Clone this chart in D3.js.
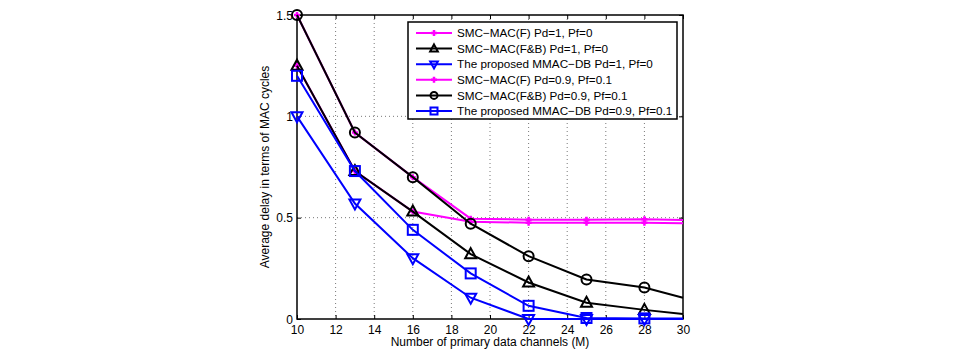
<!DOCTYPE html>
<html>
<head>
<meta charset="utf-8">
<script src="https://cdn.jsdelivr.net/npm/d3@7"></script>
<style>
  body { margin: 0; background: #fff; }
  svg { display: block; font-family: "Liberation Sans", Arial, sans-serif; }
  .tick text { font-size: 12px; fill: #000; }
  .axis-label { font-size: 12px; fill: #000; }
  .legend text { font-size: 11.7px; fill: #000; }
</style>
</head>
<body>
<div id="chart"></div>
<script>
const width = 958;
const height = 350;
const margin = { top: 15, right: 275, bottom: 31, left: 297 };
const innerWidth = width - margin.left - margin.right;
const innerHeight = height - margin.top - margin.bottom;

// data
const channels = [10, 13, 16, 19, 22, 25, 28, 30];
const xTicks = [10, 12, 14, 16, 18, 20, 22, 24, 26, 28, 30];
const yTicks = [0, 0.5, 1, 1.5];

const smcF_pd1 = [1.25, 0.73, 0.53, 0.48, 0.475, 0.475, 0.475, 0.473];
const smcFB_pd1 = [1.25, 0.73, 0.53, 0.32, 0.18, 0.08, 0.045, 0.025];
const mmac_pd1 = [1.0, 0.57, 0.30, 0.105, 0.0, 0.0, 0.0, 0.0];
const smcF_pd09 = [1.5, 0.92, 0.70, 0.495, 0.49, 0.49, 0.492, 0.488];
const smcFB_pd09 = [1.5, 0.92, 0.70, 0.47, 0.31, 0.195, 0.155, 0.105];
const mmac_pd09 = [1.2, 0.73, 0.44, 0.225, 0.065, 0.005, 0.003, 0.003];

const seriesNames = [
    "SMC\u2212MAC(F) Pd=1, Pf=0",
    "SMC\u2212MAC(F&B) Pd=1, Pf=0",
    "The proposed MMAC\u2212DB Pd=1, Pf=0",
    "SMC\u2212MAC(F) Pd=0.9, Pf=0.1",
    "SMC\u2212MAC(F&B) Pd=0.9, Pf=0.1",
    "The proposed MMAC\u2212DB Pd=0.9, Pf=0.1"
];
const seriesValues = [smcF_pd1, smcFB_pd1, mmac_pd1, smcF_pd09, smcFB_pd09, mmac_pd09];
const seriesColors = ["#ff00ff", "#000000", "#0000ff", "#ff00ff", "#000000", "#0000ff"];
const seriesMarkers = ["plus", "triUp", "triDown", "plus", "circle", "square"];
const markerChannels = [10, 13, 16, 19, 22, 25, 28];

const series = seriesNames.map((name, i) => ({
    name,
    color: seriesColors[i],
    marker: seriesMarkers[i],
    points: channels.map((x, j) => ({ x, y: seriesValues[i][j] }))
}));

const xScale = d3.scaleLinear().domain([10, 30]).range([0, innerWidth]);
const yScale = d3.scaleLinear().domain([0, 1.5]).range([innerHeight, 0]);

const svg = d3.select("#chart")
    .append("svg")
    .attr("width", width)
    .attr("height", height);

const innerChart = svg.append("g")
    .attr("transform", `translate(${margin.left}, ${margin.top})`);

// grid
innerChart.append("g")
    .selectAll("line")
    .data(xTicks.slice(1, -1))
    .join("line")
    .attr("x1", d => xScale(d)).attr("x2", d => xScale(d))
    .attr("y1", 0).attr("y2", innerHeight)
    .attr("stroke", "#555").attr("stroke-width", 0.8)
    .attr("stroke-dasharray", "1,3");

innerChart.append("g")
    .selectAll("line")
    .data(yTicks.slice(1, -1))
    .join("line")
    .attr("x1", 0).attr("x2", innerWidth)
    .attr("y1", d => yScale(d)).attr("y2", d => yScale(d))
    .attr("stroke", "#555").attr("stroke-width", 0.8)
    .attr("stroke-dasharray", "1,3");

// axes
const xAxis = innerChart.append("g")
    .attr("transform", `translate(0, ${innerHeight})`)
    .call(d3.axisBottom(xScale).tickValues(xTicks).tickSize(-4).tickPadding(6).tickFormat(d3.format("d")));
const xAxisTop = innerChart.append("g")
    .call(d3.axisTop(xScale).tickValues(xTicks).tickSize(-4).tickFormat(""));
const yAxis = innerChart.append("g")
    .call(d3.axisLeft(yScale).tickValues(yTicks).tickSize(-4).tickPadding(4).tickFormat(d => String(d)));
const yAxisRight = innerChart.append("g")
    .attr("transform", `translate(${innerWidth}, 0)`)
    .call(d3.axisRight(yScale).tickValues(yTicks).tickSize(-4).tickFormat(""));

[xAxis, xAxisTop, yAxis, yAxisRight].forEach(ax => {
    ax.select(".domain").remove();
    ax.selectAll(".tick line").attr("stroke", "#000").attr("stroke-width", 1);
});
yAxis.selectAll(".tick text").attr("dy", "0.35em");

innerChart.append("rect")
    .attr("width", innerWidth)
    .attr("height", innerHeight)
    .attr("fill", "none")
    .attr("stroke", "#000")
    .attr("stroke-width", 1.5);

// lines
const line = d3.line()
    .x(d => xScale(d.x))
    .y(d => yScale(d.y));

const drawMarker = (g, type, color, size) => {
    const s = size;
    if (type === "plus") {
        g.append("path")
            .attr("d", `M${-s},0H${s}M0,${-s}V${s}`)
            .attr("stroke", color).attr("stroke-width", 2.5).attr("fill", "none");
    } else if (type === "circle") {
        g.append("circle").attr("r", s)
            .attr("stroke", color).attr("stroke-width", 2).attr("fill", "none");
    } else if (type === "square") {
        g.append("rect").attr("x", -s).attr("y", -s).attr("width", 2 * s).attr("height", 2 * s)
            .attr("stroke", color).attr("stroke-width", 2).attr("fill", "none");
    } else if (type === "triUp") {
        g.append("path").attr("d", `M0,${-s * 1.2}L${s * 1.1},${s * 0.8}L${-s * 1.1},${s * 0.8}Z`)
            .attr("stroke", color).attr("stroke-width", 2).attr("fill", "none");
    } else if (type === "triDown") {
        g.append("path").attr("d", `M0,${s * 1.2}L${s * 1.1},${-s * 0.8}L${-s * 1.1},${-s * 0.8}Z`)
            .attr("stroke", color).attr("stroke-width", 2).attr("fill", "none");
    }
};

series.forEach(s => {
    const g = innerChart.append("g").attr("class", "series");
    g.append("path")
        .datum(s.points)
        .attr("d", line)
        .attr("fill", "none")
        .attr("stroke", s.color)
        .attr("stroke-width", 2);
    g.selectAll(".marker")
        .data(s.points.filter(d => markerChannels.includes(d.x)))
        .join("g")
        .attr("class", "marker")
        .attr("transform", d => `translate(${xScale(d.x)}, ${yScale(d.y)})`)
        .each(function () { drawMarker(d3.select(this), s.marker, s.color, s.marker === "plus" ? 3 : 5); });
});

// legend
const legend = svg.append("g")
    .attr("class", "legend")
    .attr("transform", "translate(408, 22)");
legend.append("rect")
    .attr("width", 269)
    .attr("height", 97)
    .attr("fill", "#fff")
    .attr("stroke", "#000")
    .attr("stroke-width", 1.5);

const rows = legend.selectAll(".row")
    .data(series)
    .join("g")
    .attr("class", "row")
    .attr("transform", (d, i) => `translate(0, ${11 + i * 15.6})`);
rows.append("line")
    .attr("x1", 8).attr("x2", 44)
    .attr("stroke", d => d.color).attr("stroke-width", 2);
rows.append("g")
    .attr("transform", "translate(26, 0)")
    .each(function (d) { drawMarker(d3.select(this), d.marker, d.color, d.marker === "plus" ? 3 : 3.5); });
rows.append("text")
    .attr("x", 49)
    .attr("dy", "0.35em")
    .text(d => d.name);

// axis labels
svg.append("text")
    .attr("class", "axis-label")
    .attr("x", margin.left + innerWidth / 2)
    .attr("y", height - 4)
    .attr("text-anchor", "middle")
    .text("Number of primary data channels (M)");

svg.append("text")
    .attr("class", "axis-label")
    .attr("transform", `translate(269, ${margin.top + innerHeight / 2}) rotate(-90)`)
    .attr("text-anchor", "middle")
    .text("Average delay in terms of MAC cycles");
</script>
</body>
</html>
